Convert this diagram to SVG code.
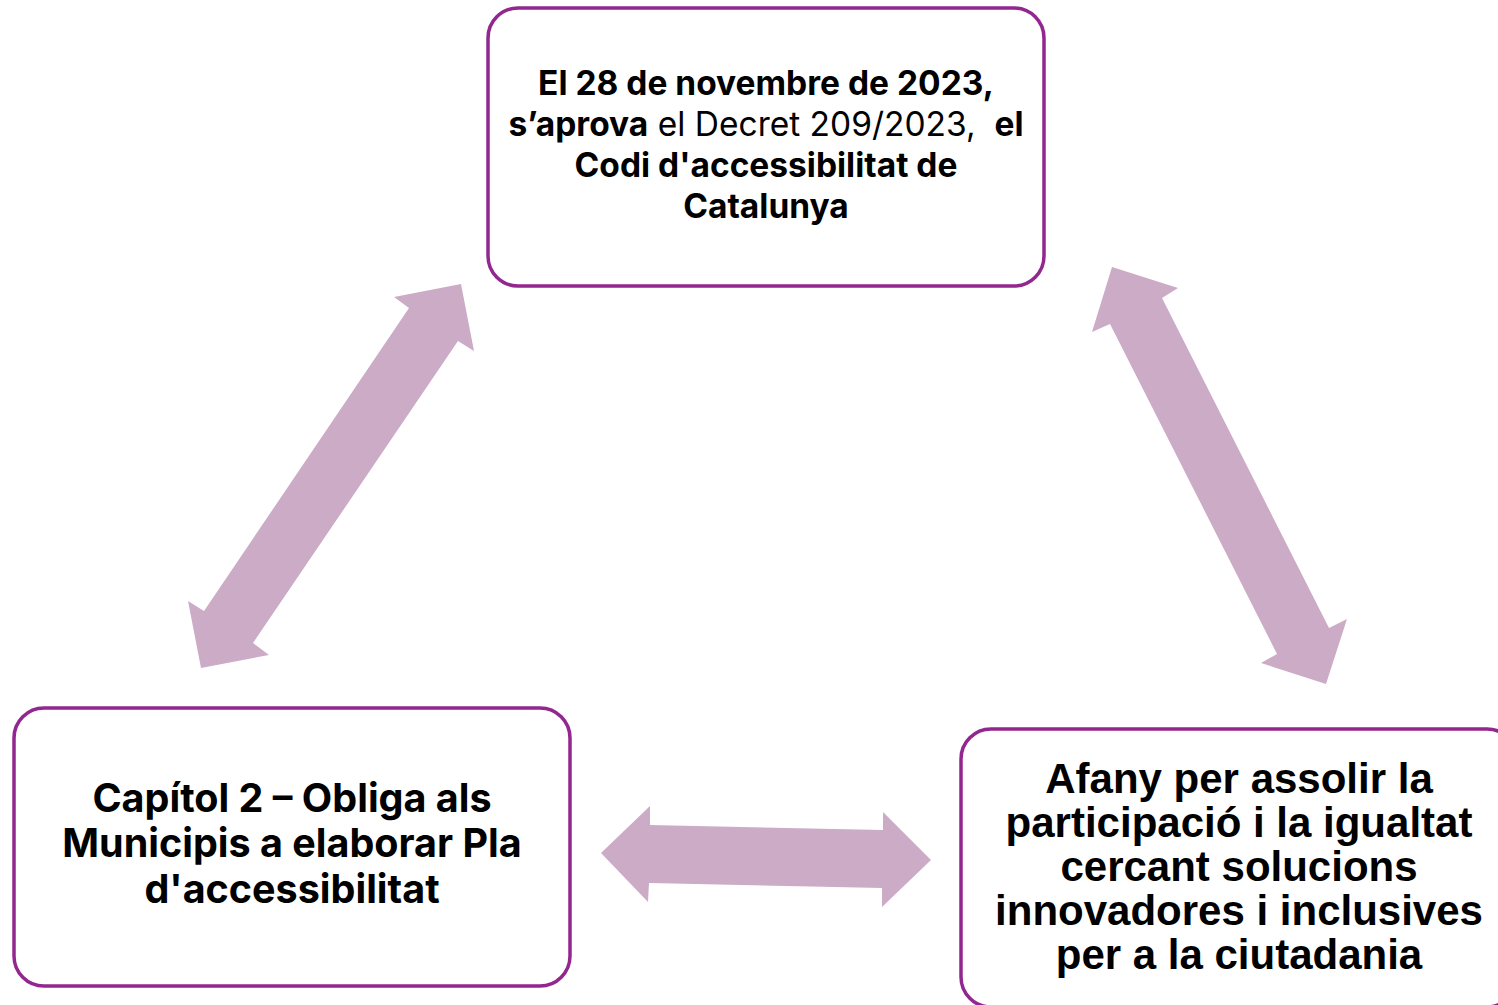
<svg xmlns="http://www.w3.org/2000/svg" width="1498" height="1005" viewBox="0 0 1498 1005">
<style>
.box{fill:#fff;stroke:#92278F;stroke-width:3.5}
.arr{fill:#CCABC7}
.t1{font-family:Inter,"Noto Sans","Liberation Sans",sans-serif;font-weight:700;fill:#000;text-anchor:middle}
.t2{font-family:"Liberation Sans",Arial,sans-serif;font-weight:700;fill:#000;text-anchor:middle;font-size:42px}
.reg{font-weight:400}
</style>
<rect width="1498" height="1005" fill="#fff"/>
<g id="connectors">
<polygon class="arr" points="461,284 474,351 458,341 253,643 269,655 201,668 188,601 204,611 409,308 394,297"/>
<polygon class="arr" points="1112,267 1178,288 1162,298 1329,628 1347,619 1326,684 1261,663 1277,654 1110,324 1092,332"/>
<polygon class="arr" points="601,853 650,806 650,825 883,830 883,812 931,860 882,907 882,888 649,883 648,902"/>
</g>
<g id="node-top">
<rect class="box" x="488" y="8" width="556" height="278" rx="30"/>
<text class="t1" font-size="33.5" x="766" y="95">El 28 de novembre de 2023,</text>
<text class="t1" font-size="33.5" x="766" y="136">s’aprova<tspan class="reg"> el Decret 209/2023, &#160;</tspan>el</text>
<text class="t1" font-size="33.5" x="766" y="177">Codi d'accessibilitat de</text>
<text class="t1" font-size="33.5" x="766" y="218">Catalunya</text>
</g>
<g id="node-left">
<rect class="box" x="14" y="708" width="556" height="278" rx="30"/>
<text class="t1" font-size="39.5" x="292" y="812">Capítol 2 – Obliga als</text>
<text class="t1" font-size="39.5" x="292" y="857">Municipis a elaborar Pla</text>
<text class="t1" font-size="39.5" x="292" y="903">d'accessibilitat</text>
</g>
<g id="node-right">
<rect class="box" x="961" y="729" width="556" height="278" rx="30"/>
<text class="t2" x="1239" y="793">Afany per assolir la</text>
<text class="t2" x="1239" y="837">participació i la igualtat</text>
<text class="t2" x="1239" y="881">cercant solucions</text>
<text class="t2" x="1239" y="925">innovadores i inclusives</text>
<text class="t2" x="1239" y="969">per a la ciutadania</text>
</g>
</svg>
